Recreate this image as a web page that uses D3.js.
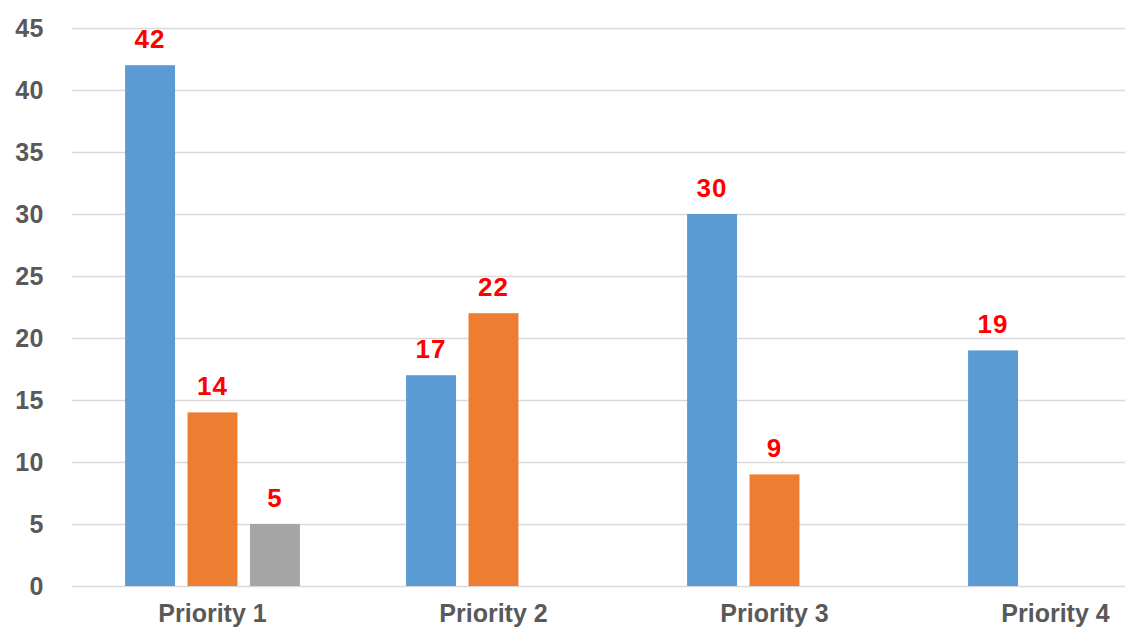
<!DOCTYPE html>
<html>
<head>
<meta charset="utf-8">
<script src="https://cdn.jsdelivr.net/npm/d3@7"></script>
<style>
  html, body { margin: 0; padding: 0; background: #fff; }
  svg { display: block; }
</style>
</head>
<body>
<svg id="chart" width="1125" height="629"></svg>
<script>
const categories = ["Priority 1", "Priority 2", "Priority 3", "Priority 4"];
const seriesNames = ["Series 1", "Series 2", "Series 3"];
const series1 = [42, 17, 30, 19];
const series2 = [14, 22, 9, null];
const series3 = [5, null, null, null];
const yTicks = [0, 5, 10, 15, 20, 25, 30, 35, 40, 45];
const colors = ["#5b9bd5", "#ed7d31", "#a5a5a5"];

(function () {
const allSeries = [series1, series2, series3];
const svg = d3.select("#chart");
const W = 1125;
const plotLeft = 72, bandStep = 281;
const plotTop = 28, plotBottom = 586;

const x = d3.scaleBand().domain(categories)
  .range([plotLeft, plotLeft + bandStep * categories.length]).padding(0);
const xs = d3.scaleBand().domain(seriesNames)
  .range([0, x.bandwidth()]).paddingInner(0.2).paddingOuter(0.85);
const y = d3.scaleLinear().domain([0, 45]).range([plotBottom, plotTop]);

// gridlines
svg.append("g").selectAll("line").data(yTicks).join("line")
  .attr("x1", plotLeft).attr("x2", W)
  .attr("y1", d => y(d) + 0.5).attr("y2", d => y(d) + 0.5)
  .attr("stroke", "#d9d9d9").attr("stroke-width", 1.3);

// y axis labels
const yAxis = d3.axisLeft(y).tickValues(yTicks).tickSize(0).tickPadding(0);
const gy = svg.append("g").attr("transform", "translate(44,0)").call(yAxis);
gy.select(".domain").remove();
gy.selectAll("text")
  .attr("font-family", "Liberation Sans, Arial, sans-serif")
  .attr("font-size", 25).attr("font-weight", "bold")
  .attr("letter-spacing", 0.5)
  .attr("fill", "#595959").attr("dy", "0.35em");

// x axis labels
const xAxis = d3.axisBottom(x).tickSize(0).tickPadding(0);
const gx = svg.append("g").attr("transform", "translate(0,604)").call(xAxis);
gx.select(".domain").remove();
gx.selectAll("text")
  .attr("font-family", "Liberation Sans, Arial, sans-serif")
  .attr("font-size", 25).attr("font-weight", "bold")
  .attr("fill", "#595959").attr("dy", "0.72em");

// bars
const data = [];
categories.forEach((c, i) => {
  allSeries.forEach((s, j) => {
    if (s[i] != null) data.push({ cat: c, ser: seriesNames[j], v: s[i], color: colors[j] });
  });
});

const g = svg.append("g");
g.selectAll("rect").data(data).join("rect")
  .attr("x", d => x(d.cat) + xs(d.ser))
  .attr("width", xs.bandwidth())
  .attr("y", d => y(d.v))
  .attr("height", d => y(0) - y(d.v))
  .attr("fill", d => d.color);

g.selectAll("text").data(data).join("text")
  .attr("x", d => x(d.cat) + xs(d.ser) + xs.bandwidth() / 2)
  .attr("y", d => y(d.v) - 17)
  .attr("text-anchor", "middle")
  .attr("font-family", "Liberation Sans, Arial, sans-serif")
  .attr("font-size", 26).attr("font-weight", "bold")
  .attr("letter-spacing", 1)
  .attr("fill", "#ff0000")
  .text(d => d.v);
})();
</script>
</body>
</html>
